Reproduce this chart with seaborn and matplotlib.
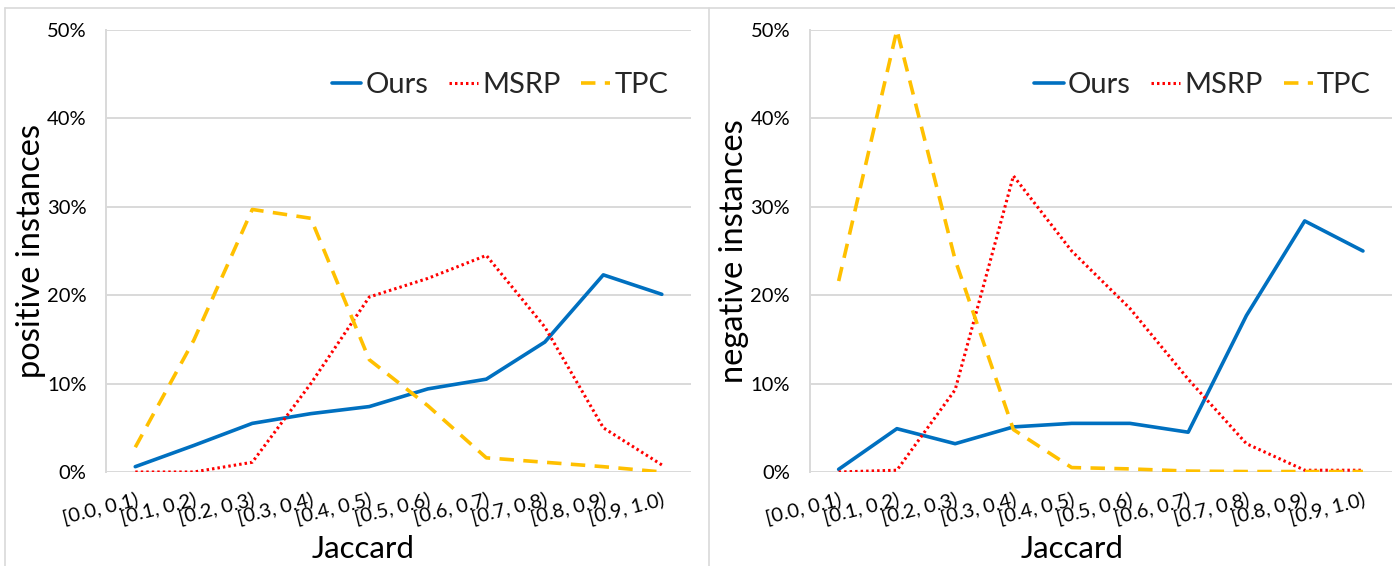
import matplotlib
matplotlib.use("Agg")
import matplotlib.pyplot as plt
from matplotlib.lines import Line2D
from matplotlib.ticker import FuncFormatter
import seaborn as sns
import pandas as pd

sns.set_theme(style="white")
plt.rcParams["font.family"] = ["Lato", "DejaVu Sans"]

bins = ["[0.0, 0.1)", "[0.1, 0.2)", "[0.2, 0.3)", "[0.3, 0.4)", "[0.4, 0.5)",
        "[0.5, 0.6)", "[0.6, 0.7)", "[0.7, 0.8)", "[0.8, 0.9)", "[0.9, 1.0)"]
methods = ["Ours", "MSRP", "TPC"]

# share of positive instances per Jaccard bin (%)
pos_ours = [0.6, 3.0, 5.5, 6.6, 7.4, 9.4, 10.5, 14.7, 22.3, 20.1]
pos_msrp = [0.0, 0.0, 1.1, 10.0, 19.8, 21.9, 24.5, 16.4, 5.0, 0.8]
pos_tpc = [2.8, 14.9, 29.7, 28.7, 12.7, 7.5, 1.6, 1.1, 0.6, 0.0]

# share of negative instances per Jaccard bin (%)
neg_ours = [0.3, 4.9, 3.2, 5.1, 5.5, 5.5, 4.5, 17.7, 28.4, 25.0]
neg_msrp = [0.0, 0.2, 9.3, 33.5, 25.0, 18.5, 10.5, 3.2, 0.2, 0.2]
neg_tpc = [21.6, 50.0, 24.0, 4.8, 0.5, 0.35, 0.1, 0.05, 0.05, 0.05]

colors = {"Ours": "#0070C0", "MSRP": "#FF0000", "TPC": "#FFC000"}
styles = {
    "Ours": dict(linestyle="-", linewidth=2.6),
    "MSRP": dict(linestyle=(0, (0.8, 1.0)), linewidth=2.2),
    "TPC": dict(linestyle=(0, (4.0, 2.6)), linewidth=2.6),
}


def long_frame(ours, msrp, tpc):
    rows = []
    for name, vals in zip(methods, [ours, msrp, tpc]):
        for i, (b, v) in enumerate(zip(bins, vals)):
            rows.append({"pos": i, "bin": b, "method": name, "value": v / 100.0})
    return pd.DataFrame(rows)


fig = plt.figure(figsize=(13.95, 5.66), dpi=100)
ax_l = fig.add_axes([0.0760, 0.1661, 0.4194, 0.7809])
ax_r = fig.add_axes([0.5803, 0.1661, 0.4176, 0.7809])

panels = [
    (ax_l, long_frame(pos_ours, pos_msrp, pos_tpc), "positive instances", 0.962, 0.44),
    (ax_r, long_frame(neg_ours, neg_msrp, neg_tpc), "negative instances", 0.964, 0.45),
]

grid_c = "#d9d9d9"
for ax, df, ylab, leg_x, xlab_x in panels:
    for name in methods:
        sub = df[df["method"] == name]
        sns.lineplot(data=sub, x="pos", y="value", ax=ax, color=colors[name],
                     label=name, **styles[name])
    ax.set_xlim(-0.5, 9.5)
    ax.set_ylim(0, 0.5)
    ax.set_yticks([0, 0.1, 0.2, 0.3, 0.4, 0.5])
    ax.yaxis.set_major_formatter(FuncFormatter(lambda v, p: f"{v * 100:.0f}%"))
    ax.set_xticks(range(len(bins)))
    ax.set_xticklabels(bins, rotation=14, ha="right", va="top",
                       rotation_mode="anchor")
    ax.tick_params(axis="both", length=0, colors="#000000")
    ax.tick_params(axis="x", pad=13, labelsize=14.5)
    ax.tick_params(axis="y", pad=14, labelsize=14.5)
    ax.grid(axis="y", color=grid_c, linewidth=1.4)
    ax.grid(axis="x", visible=False)
    ax.set_axisbelow(True)
    for s in ["top", "right", "bottom"]:
        ax.spines[s].set_visible(False)
    ax.spines["left"].set_color(grid_c)
    ax.spines["left"].set_linewidth(1.4)
    ax.set_ylabel(ylab, fontsize=23.5, color="#000000", labelpad=1)
    ax.set_xlabel("Jaccard", fontsize=22.5, color="#000000")
    ax.xaxis.set_label_coords(xlab_x, -0.143)
    ax.legend(loc="center right", bbox_to_anchor=(leg_x, 0.875), ncol=3,
              frameon=False, fontsize=21, handlelength=1.0, handletextpad=0.15,
              columnspacing=0.7, borderaxespad=0, borderpad=0)

# chart frames
frame_c = "#d9d9d9"
W, H = 1395.0, 566.0
fig.add_artist(Line2D([5 / W, 1.0], [1 - 8 / H, 1 - 8 / H], color=frame_c, lw=1.2))
fig.add_artist(Line2D([5 / W, 5 / W], [0, 1 - 8 / H], color=frame_c, lw=1.2))
fig.add_artist(Line2D([709 / W, 709 / W], [0, 1 - 8 / H], color=frame_c, lw=1.2))

fig.savefig("out.png", dpi=100)
